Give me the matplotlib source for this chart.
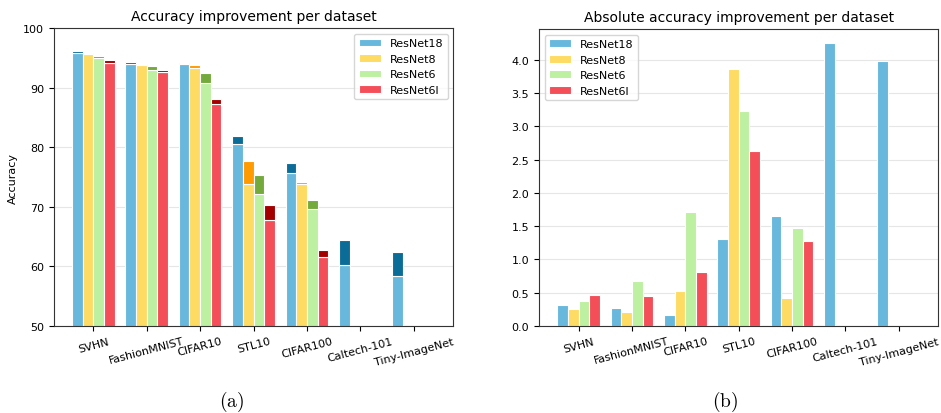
import numpy as np
import matplotlib.pyplot as plt

datasets = ["SVHN", "FashionMNIST", "CIFAR10", "STL10", "CIFAR100",
            "Caltech-101", "Tiny-ImageNet"]
models = ["ResNet18", "ResNet8", "ResNet6", "ResNet6l"]

# baseline accuracy (%) per model, one entry per dataset (nan = not run)
nan = np.nan
base_resnet18 = [95.93, 94.07, 94.06, 80.65, 75.73, 60.24, 58.40]
base_resnet8 = [95.64, 93.83, 93.26, 73.90, 73.82, nan, nan]
base_resnet6 = [94.97, 93.04, 90.82, 72.18, 69.68, nan, nan]
base_resnet6l = [94.15, 92.60, 87.27, 67.74, 61.53, nan, nan]

# absolute accuracy improvement (percentage points)
gain_resnet18 = [0.315, 0.265, 0.16, 1.307, 1.647, 4.25, 3.98]
gain_resnet8 = [0.255, 0.215, 0.526, 3.86, 0.42, nan, nan]
gain_resnet6 = [0.375, 0.676, 1.717, 3.229, 1.477, nan, nan]
gain_resnet6l = [0.465, 0.446, 0.806, 2.628, 1.28, nan, nan]

base = [base_resnet18, base_resnet8, base_resnet6, base_resnet6l]
gain = [gain_resnet18, gain_resnet8, gain_resnet6, gain_resnet6l]

light = ["#67b8dc", "#fedb62", "#bdf0a0", "#f44e59"]
dark = ["#0b6c97", "#ff9a00", "#74a93c", "#a40000"]

plt.rcParams["font.size"] = 8
plt.rcParams["mathtext.fontset"] = "cm"

fig = plt.figure(figsize=(9.41, 4.14), dpi=100)
ax1 = fig.add_axes([0.0571, 0.2101, 0.4247, 0.7191])
ax2 = fig.add_axes([0.5728, 0.2101, 0.4243, 0.7174])

x = np.arange(len(datasets))
width = 0.2
offsets = [-0.3, -0.1, 0.1, 0.3]

for i, name in enumerate(models):
    b = np.array(base[i])
    g = np.array(gain[i])
    # base accuracy with the improvement stacked on top in a darker shade
    ax1.bar(x + offsets[i], b, width, color=light[i], edgecolor="white",
            linewidth=0.8, label=name, zorder=2)
    ax1.bar(x + offsets[i], g, width, bottom=b, color=dark[i],
            edgecolor="white", linewidth=0.8, zorder=2)
    ax2.bar(x + offsets[i], g, width, color=light[i], edgecolor="white",
            linewidth=0.8, label=name, zorder=2)

ax1.set_ylim(50, 100)
ax1.set_ylabel("Accuracy")
ax1.set_title("Accuracy improvement per dataset", fontsize=10)
ax1.legend(loc="upper right", fontsize=8)

ax2.set_ylim(0, 4.46)
ax2.set_yticks(np.arange(0, 4.01, 0.5))
ax2.set_title("Absolute accuracy improvement per dataset", fontsize=10)
ax2.legend(loc="upper left", fontsize=8)

for ax in (ax1, ax2):
    ax.set_xlim(-0.74, 6.74)
    ax.set_xticks(x)
    ax.set_xticklabels(datasets, rotation=15, ha="center")
    ax.yaxis.grid(True, color="#e6e6e6", linewidth=0.8, zorder=0)
    ax.set_axisbelow(True)
    for s in ax.spines.values():
        s.set_color("#333333")

fig.text(0.2455, 0.016, r"$\mathrm{(a)}$", ha="center", fontsize=14)
fig.text(0.7705, 0.016, r"$\mathrm{(b)}$", ha="center", fontsize=14)

fig.savefig("out.png", dpi=100)
